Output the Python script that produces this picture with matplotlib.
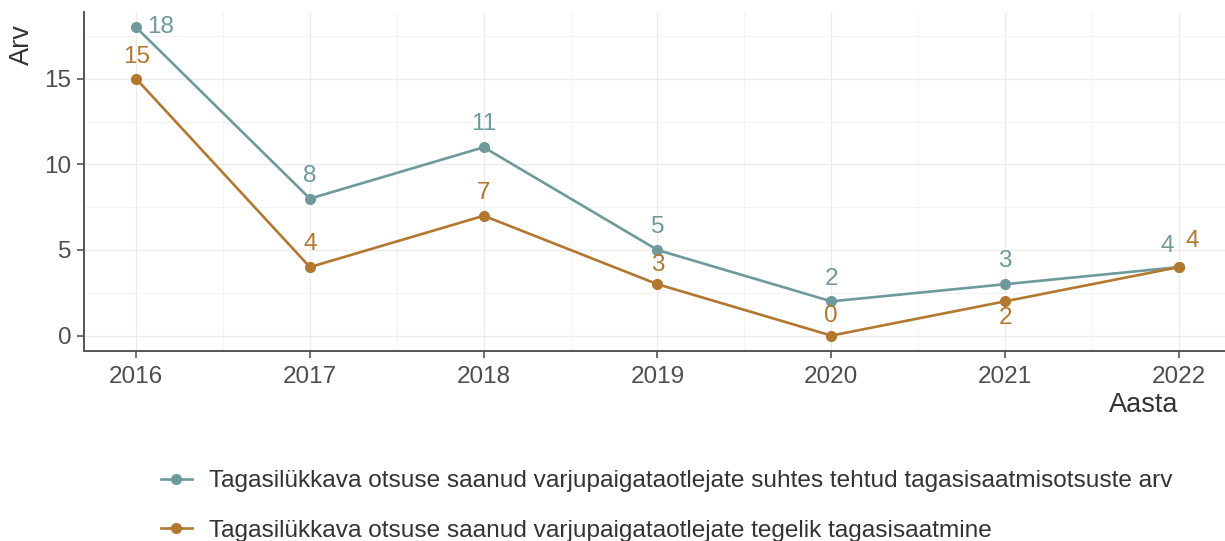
import matplotlib.pyplot as plt
from matplotlib.ticker import MultipleLocator

plt.rcParams['font.family'] = ['Liberation Sans', 'DejaVu Sans']

years = [2016, 2017, 2018, 2019, 2020, 2021, 2022]
decisions = [18, 8, 11, 5, 2, 3, 4]
returns = [15, 4, 7, 3, 0, 2, 4]
label_decisions = "Tagasilükkava otsuse saanud varjupaigataotlejate suhtes tehtud tagasisaatmisotsuste arv"
label_returns = "Tagasilükkava otsuse saanud varjupaigataotlejate tegelik tagasisaatmine"

teal = "#6e9a9c"
orange = "#b3772e"

# label offsets in pixels (dx, dy), dy positive = up
off_dec = [(24, 0), (0, 23), (0, 23), (0, 23), (0, 22), (0, 23), (-12, 21)]
off_ret = [(0, 22), (0, 23), (0, 23), (0, 19), (0, 20), (0, -17), (13, 26)]

W, H = 1225, 541
fig = plt.figure(figsize=(W / 100, H / 100), dpi=100)
ax = fig.add_axes([84 / W, 1 - 351 / H, (1231 - 84) / W, (351 - 12) / H])

ax.plot(years, decisions, color=teal, lw=1.9, marker="o", ms=7, label=label_decisions, clip_on=False)
ax.plot(years, returns, color=orange, lw=1.9, marker="o", ms=7, label=label_returns, clip_on=False)

px = 72 / 100
for x, y, (dx, dy) in zip(years, decisions, off_dec):
    ax.annotate(str(y), (x, y), xytext=(dx * px, dy * px), textcoords="offset points",
                ha="center", va="center", color=teal, fontsize=17.5)
for x, y, (dx, dy) in zip(years, returns, off_ret):
    ax.annotate(str(y), (x, y), xytext=(dx * px, dy * px), textcoords="offset points",
                ha="center", va="center", color=orange, fontsize=17.5)

ax.set_xlim(2015.7, 2022.3)
ax.set_ylim(-0.9, 18.9)
ax.set_xticks(years)
ax.set_yticks([0, 5, 10, 15])
ax.xaxis.set_minor_locator(MultipleLocator(0.5))
ax.yaxis.set_minor_locator(MultipleLocator(2.5))
ax.grid(which="major", color="#ebebeb", lw=0.9)
ax.grid(which="minor", color="#f3f3f3", lw=0.6)
ax.set_axisbelow(True)

for s in ["top", "right"]:
    ax.spines[s].set_visible(False)
for s in ["left", "bottom"]:
    ax.spines[s].set_color("#555555")
    ax.spines[s].set_linewidth(1.4)
ax.tick_params(which="major", length=5, width=1.2, color="#555555", labelsize=17.5,
               labelcolor="#4d4d4d")
ax.tick_params(axis="x", which="major", pad=5.5)
ax.tick_params(axis="y", which="major", pad=4)
ax.tick_params(which="minor", length=0)

fig.text(22 / W, 1 - 45 / H, "Arv", rotation=90, ha="center", va="center", fontsize=19.5, color="#333333")
fig.text(1178 / W, 1 - 405 / H, "Aasta", ha="right", va="center", fontsize=19.5, color="#333333")

handles, labels = ax.get_legend_handles_labels()
fig.legend(handles, labels, loc="upper left", bbox_to_anchor=(139 / W, 1 - 448 / H),
           frameon=False, fontsize=17.6, labelcolor="#333333", handlelength=1.25,
           labelspacing=1.13, handletextpad=0.7)

fig.savefig("out.png", dpi=100)
